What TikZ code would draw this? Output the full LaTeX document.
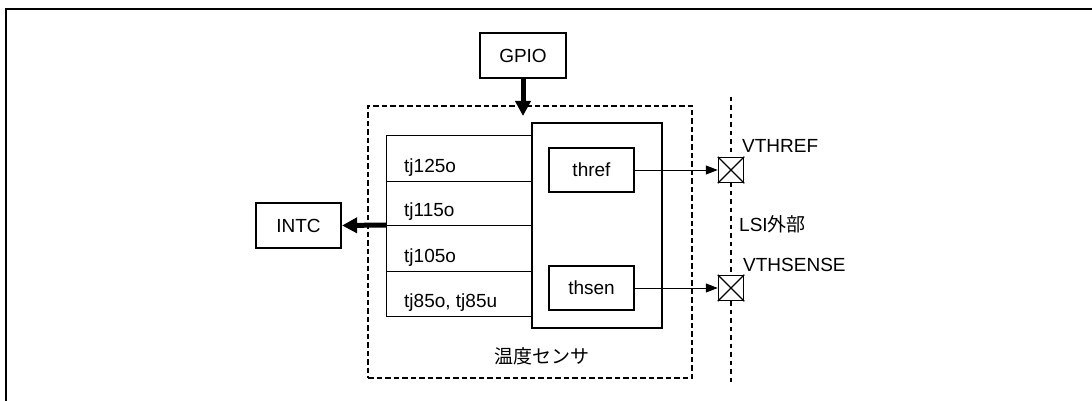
\documentclass[tikz,border=0pt]{standalone}
\usepackage{fontspec}
\setmainfont{Liberation Sans}
\newfontfamily\jpfont{Noto Sans CJK JP}
\usetikzlibrary{positioning, arrows.meta}

\begin{document}
\begin{tikzpicture}[x=1pt,y=-1pt,
    font=\fontsize{19}{21}\selectfont,
    blk/.style={draw,line width=2.2pt,minimum width=86pt,minimum height=45pt,inner sep=0pt},
    bus/.style={line width=1pt},
    sig/.style={line width=1pt,-{Triangle[length=12pt,width=9pt]}},
    fat/.style={line width=5pt,-{Triangle[length=15pt,width=15pt]}},
    pad/.style={draw,fill=white,line width=1.5pt,minimum size=25pt,inner sep=0pt},
    lbl/.style={inner sep=0pt,anchor=base west}]
    \useasboundingbox (0,0) rectangle (1092,401);
    \draw[line width=2.5pt] (6,401) -- (6,9) -- (1092,9);
    % sensor block
    \node (sensor) [draw,line width=2.8pt,dash pattern=on 5.5pt off 3pt,
        minimum width=324pt,minimum height=272pt] at (530,242) {};
    \node (sensorlbl) [inner sep=0pt,anchor=base] at (542,363) {\jpfont 温度センサ};
    \node (core) [draw,line width=2.2pt,minimum width=130pt,minimum height=205pt] at (597,225.5) {};
    \node (thref) [blk,minimum width=85pt,minimum height=44pt] at (591.5,170) {thref};
    \node (thsen) [blk,minimum width=85pt,minimum height=44pt] at (591.5,288) {thsen};
    \node (gpio) [blk] at (523,55.5) {GPIO};
    \node (intc) [blk,minimum width=85pt] at (298.5,225.5) {INTC};
    % outputs
    \coordinate (busT) at (386,136);
    \coordinate (busB) at (386,316);
    \coordinate (busM) at (386,225);
    \draw[bus] (core.west |- busT) -- (busT) -- (busB) -- (core.west |- busB);
    \foreach \y in {181,225,271}
        \draw[bus] (386,\y) -- (core.west |- 0,\y);
    \foreach \y/\t [count=\i] in {172/tj125o, 216/tj115o, 262/tj105o, 307/{tj85o, tj85u}}
        \node (tj\i) [lbl] at (404,\y) {\t};
    \draw[fat] (busM) -- (intc.east);
    \coordinate (gpioin) at (523,116);
    \draw[fat] (gpio.south) -- (gpioin);
    % LSI boundary
    \coordinate (edgeT) at (731,97);
    \coordinate (edgeB) at (731,382);
    \draw[line width=2.4pt,dash pattern=on 4.5pt off 4pt] (edgeT) -- (edgeB);
    \node (vref) [pad] at (731,170) {};
    \node (vsen) [pad] at (731,288) {};
    \draw[line width=1.2pt] (vref.north west) -- (vref.south east) (vref.south west) -- (vref.north east);
    \draw[line width=1.2pt] (vsen.north west) -- (vsen.south east) (vsen.south west) -- (vsen.north east);
    \draw[sig] (thref.east) -- (vref.west);
    \draw[sig] (thsen.east) -- (vsen.west);
    \node (vreflbl) [lbl] at (742,153) {VTHREF};
    \node (vsenlbl) [lbl] at (743,271) {VTHSENSE};
    \node (outlbl) [lbl] at (739,231) {LSI{\jpfont 外部}};
\end{tikzpicture}
\end{document}
